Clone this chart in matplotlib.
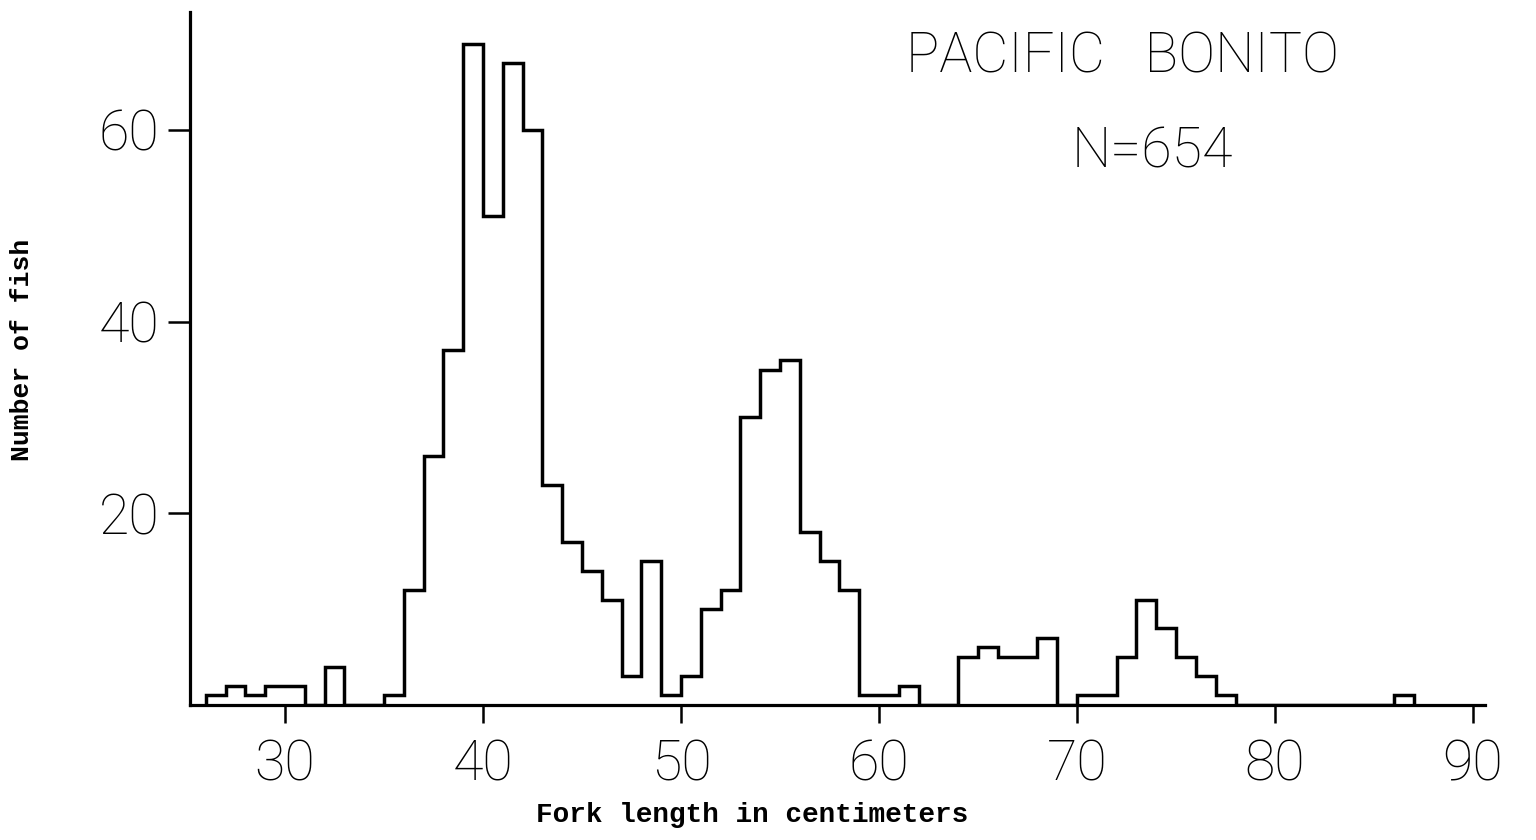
import matplotlib
matplotlib.use("Agg")
import matplotlib.pyplot as plt
import numpy as np

# Data: counts per 1-cm fork length bin, bins start at 26 cm
bin_start = 26
counts = [1, 2, 1, 2, 2, 0, 4, 0, 0, 1,        # 26-35
          12, 26, 37, 69, 51, 67, 60, 23, 17, 14,  # 36-45
          11, 3, 15, 1, 3, 10, 12, 30, 35, 36,   # 46-55
          18, 15, 12, 1, 1, 2, 0, 0, 5, 6,       # 56-65
          5, 5, 7, 0, 1, 1, 5, 11, 8, 5,         # 66-75
          3, 1, 0, 0, 0, 0, 0, 0, 0, 0,          # 76-85
          1]                                     # 86
x_ticks = [30, 40, 50, 60, 70, 80, 90]
y_ticks = [20, 40, 60]
title = "PACIFIC   BONITO"
n_label = "N=654"
x_label = "Fork length in centimeters"
y_label = "Number of fish"

W, H = 1536, 840
fig = plt.figure(figsize=(W / 100, H / 100), dpi=100)
ax = fig.add_axes([190 / W, 1 - 705 / H, (1485 - 190) / W, (705 - 12) / H])

edges = np.arange(bin_start, bin_start + len(counts) + 1)
ax.stairs(counts, edges, baseline=0, fill=False, color="black", linewidth=2.5)

ax.set_xlim(25.2, 90.6)
ax.set_ylim(0, 72.3)

for s in ["top", "right"]:
    ax.spines[s].set_visible(False)
for s in ["left", "bottom"]:
    ax.spines[s].set_linewidth(2.3)

tick_font = dict(family="Roboto", weight="light", size=40)
ax.set_xticks(x_ticks)
ax.set_xticklabels([str(t) for t in x_ticks], fontdict=tick_font)
ax.set_yticks(y_ticks)
ax.set_yticklabels([str(t) for t in y_ticks], fontdict=tick_font)
ax.tick_params(axis="x", direction="out", length=13, width=1.8, pad=11)
ax.tick_params(axis="y", direction="out", length=16, width=1.8, pad=6)

fig.text(1122 / W, 1 - 57 / H, title, ha="center", va="center",
         family="Roboto", weight="light", size=40)
fig.text(1152 / W, 1 - 152 / H, n_label, ha="center", va="center",
         family="Roboto", weight="light", size=40)

fig.text(752 / W, 1 - 815 / H, x_label, ha="center", va="center",
         family="Liberation Mono", weight="bold", size=20)
fig.text(22 / W, 1 - 350 / H, y_label, ha="center", va="center", rotation=90,
         family="Liberation Mono", weight="bold", size=19)

fig.savefig("out.png", dpi=100, facecolor="white")
